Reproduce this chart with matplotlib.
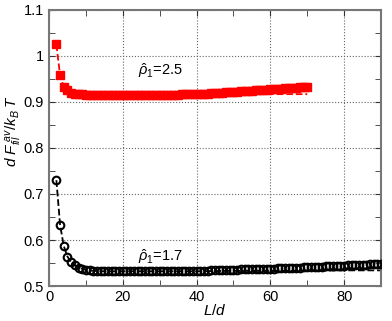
import matplotlib
matplotlib.use('Agg')
import matplotlib.pyplot as plt
from matplotlib.ticker import MultipleLocator

plt.rcParams['font.family'] = ['Liberation Sans', 'DejaVu Sans']
plt.rcParams['mathtext.fontset'] = 'custom'
plt.rcParams['mathtext.rm'] = 'Liberation Sans'
plt.rcParams['mathtext.it'] = 'Liberation Sans:italic'

# rho1 = 2.5 (red squares), L/d = 2..70
L_red = list(range(2, 71))
F_red = [1.025, 0.958, 0.933, 0.925, 0.920, 0.918, 0.917, 0.917,
         0.916, 0.916, 0.916, 0.916, 0.916, 0.916, 0.916, 0.916, 0.916, 0.916,
         0.916, 0.916, 0.916, 0.916, 0.916, 0.916, 0.916, 0.916, 0.916, 0.916,
         0.916, 0.916, 0.916, 0.916, 0.916, 0.916,
         0.917, 0.917, 0.917, 0.917, 0.917,
         0.918, 0.918, 0.918, 0.919, 0.919,
         0.920, 0.920, 0.921, 0.921, 0.922,
         0.922, 0.923, 0.923, 0.924, 0.924,
         0.925, 0.925, 0.926, 0.927, 0.928,
         0.928, 0.929, 0.929, 0.930, 0.930,
         0.931, 0.931, 0.932, 0.932, 0.933]
L_red_fit = [2, 3, 4, 5, 6, 7, 8, 10, 15, 20, 30, 40, 50, 60, 70]
F_red_fit = [1.025, 0.958, 0.933, 0.925, 0.920, 0.918, 0.917, 0.916, 0.916,
             0.916, 0.916, 0.916, 0.917, 0.917, 0.917]

# rho1 = 1.7 (black circles), L/d = 2..90
L_blk = list(range(2, 91))
F_blk = [0.730, 0.633, 0.587, 0.564, 0.552, 0.545, 0.540, 0.537, 0.535, 0.534, 0.533,
         0.532, 0.532, 0.532, 0.532, 0.532, 0.532, 0.532, 0.532, 0.532, 0.532,
         0.532, 0.532, 0.532, 0.532, 0.532, 0.532, 0.532, 0.532, 0.532, 0.532,
         0.532, 0.532, 0.532,
         0.533, 0.533, 0.533, 0.533, 0.533, 0.533, 0.533, 0.533, 0.534, 0.534,
         0.534, 0.534, 0.535, 0.535, 0.535, 0.535, 0.536, 0.536, 0.536, 0.537,
         0.537, 0.537, 0.537, 0.538, 0.538, 0.538, 0.539, 0.539, 0.539, 0.539,
         0.540, 0.540, 0.540, 0.541, 0.541, 0.541, 0.542, 0.542, 0.542, 0.543,
         0.543, 0.543, 0.544, 0.544, 0.544, 0.545, 0.545, 0.545, 0.546, 0.546,
         0.546, 0.547, 0.547, 0.547, 0.547]
L_blk_fit = [2, 3, 4, 5, 6, 7, 8, 10, 12, 15, 20, 30, 40, 50, 60, 70, 80, 90]
F_blk_fit = [0.730, 0.633, 0.587, 0.564, 0.552, 0.545, 0.540, 0.535, 0.533, 0.532,
             0.532, 0.532, 0.532, 0.533, 0.533, 0.533, 0.534, 0.534]

fig = plt.figure(figsize=(3.92, 3.21), dpi=100)
ax = fig.add_axes([0.125, 0.109, 0.847, 0.860])

ax.plot(L_red_fit, F_red_fit, '--', color='red', lw=1.3, zorder=2)
ax.plot(L_red, F_red, 's', color='red', ms=5.5, zorder=3)
ax.plot(L_blk_fit, F_blk_fit, '--', color='black', lw=1.3, zorder=2)
ax.plot(L_blk, F_blk, 'o', mfc='none', mec='black', mew=1.5, ms=5.5, zorder=3)

ax.text(24, 0.958, r'$\hat{\rho}_1$=2.5', fontsize=10.5)
ax.text(24, 0.555, r'$\hat{\rho}_1$=1.7', fontsize=10.5)

ax.set_xlim(0, 90)
ax.set_ylim(0.5, 1.1)
ax.xaxis.set_major_locator(MultipleLocator(20))
ax.xaxis.set_minor_locator(MultipleLocator(10))
ax.yaxis.set_minor_locator(MultipleLocator(0.05))
ax.set_yticks([0.5, 0.6, 0.7, 0.8, 0.9, 1.0, 1.1])
ax.set_yticklabels(['0.5', '0.6', '0.7', '0.8', '0.9', '1', '1.1'])
ax.tick_params(which='both', direction='in', top=True, right=True, labelsize=10.5,
               color='#333333', length=4)
ax.tick_params(axis='x', pad=3)
ax.grid(True, which='major', ls=':', color='#666666', lw=0.8)
for s in ax.spines.values():
    s.set_color('#777777')
    s.set_linewidth(1.5)

ax.set_xlabel(r'$L/d$', fontsize=11, labelpad=-1)
ax.set_ylabel(r'$d\ F_{fil}^{\ av}/k_B\,T$', fontsize=11)
ax.yaxis.set_label_coords(-0.075, 0.56)

plt.savefig('out.png', dpi=100)
